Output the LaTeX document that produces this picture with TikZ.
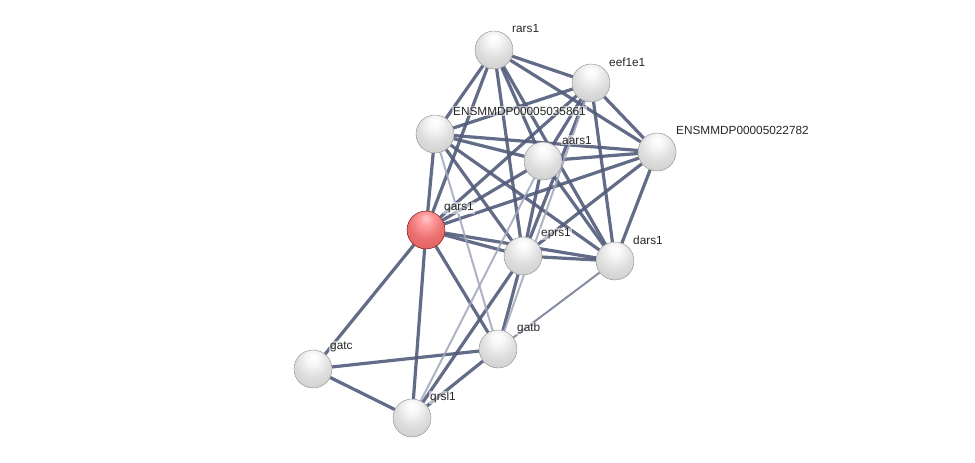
\documentclass[tikz,border=0pt]{standalone}
\usepackage{fontspec}
\setmainfont{Liberation Sans}
\pgfdeclarelayer{bg}
\pgfsetlayers{bg,main}
\definecolor{edgec}{RGB}{82,92,122}
\definecolor{ledgec}{RGB}{160,166,186}
\pgfdeclareradialshading{graysph}{\pgfpoint{0bp}{16bp}}{color(0bp)=(white); color(8bp)=(white!97!black); color(22bp)=(white!87!black); color(38bp)=(white!80!black); color(50bp)=(white!68!black); color(60bp)=(white!50!black); color(70bp)=(white!45!black)}
\pgfdeclareradialshading{redsph}{\pgfpoint{0bp}{16bp}}{color(0bp)=(white!80!red); color(8bp)=(white!62!red); color(22bp)=(white!48!red!92!black); color(38bp)=(white!42!red!88!black); color(50bp)=(white!25!red!75!black); color(60bp)=(red!55!black); color(70bp)=(red!50!black)}
\begin{document}
\begin{tikzpicture}[x=1pt,y=-1pt,
  gnode/.style={circle,minimum size=38pt,inner sep=0pt,shading=graysph,draw=white!55!black,line width=0.4pt},
  qnode/.style={circle,minimum size=38pt,inner sep=0pt,shading=redsph,draw=red!45!black,line width=0.4pt},
  lab/.style={anchor=west,inner sep=1pt,font=\fontsize{11.8}{14}\selectfont,text=black!85},
  hlab/.style={lab,fill=white,fill opacity=0.55,text opacity=1},
  edge/.style={draw=edgec,line width=3.2pt,opacity=0.9},
  ledge/.style={draw=ledgec,line width=2pt,opacity=0.85}]
\useasboundingbox (0,0) rectangle (975,463);
\node[gnode] (rars1) at (494,50) {};
\node[gnode] (eef1e1) at (591,83) {};
\node[gnode] (e35) at (435,134) {};
\node[gnode] (e22) at (657,152) {};
\node[gnode] (aars1) at (543,161) {};
\node[qnode] (qars1) at (426,230) {};
\node[gnode] (eprs1) at (523,256) {};
\node[gnode] (dars1) at (615,261) {};
\node[gnode] (gatb) at (498,349) {};
\node[gnode] (gatc) at (313,369) {};
\node[gnode] (qrsl1) at (412,418) {};
\node[lab] (lrars1) at (511,28) {rars1};
\node[lab] (leef1e1) at (608,62) {eef1e1};
\node[hlab] (le35) at (452,111) {ENSMMDP00005035861};
\node[lab] (le22) at (675,130) {ENSMMDP00005022782};
\node[hlab] (laars1) at (561,140) {aars1};
\node[hlab] (lqars1) at (443,208) {qars1};
\node[hlab] (leprs1) at (540,234) {eprs1};
\node[lab] (ldars1) at (632,240) {dars1};
\node[hlab] (lgatb) at (516,328) {gatb};
\node[hlab] (lgatc) at (329,347) {gatc};
\node[hlab] (lqrsl1) at (429,397) {qrsl1};
\begin{pgfonlayer}{bg}
\foreach \a/\b in {rars1/e35,rars1/qars1,rars1/eprs1,rars1/aars1,rars1/dars1,rars1/eef1e1,rars1/e22,
  eef1e1/e22,eef1e1/e35,eef1e1/aars1,eef1e1/eprs1,eef1e1/dars1,eef1e1/qars1,
  e22/e35,e22/aars1,e22/qars1,e22/eprs1,e22/dars1,
  aars1/e35,aars1/qars1,aars1/eprs1,aars1/dars1,
  e35/qars1,e35/eprs1,e35/dars1,
  qars1/eprs1,qars1/dars1,qars1/gatc,qars1/qrsl1,qars1/gatb,
  eprs1/dars1,eprs1/gatb,eprs1/qrsl1,
  gatb/gatc,gatb/qrsl1,gatc/qrsl1}
  \draw[edge] (\a) -- (\b);
\foreach \a/\b in {e35/gatb,eef1e1/gatb,aars1/qrsl1}
  \draw[ledge] (\a) -- (\b);
\draw[edge,line width=2pt,opacity=0.7] (dars1) -- (gatb);
\end{pgfonlayer}
\end{tikzpicture}
\end{document}
